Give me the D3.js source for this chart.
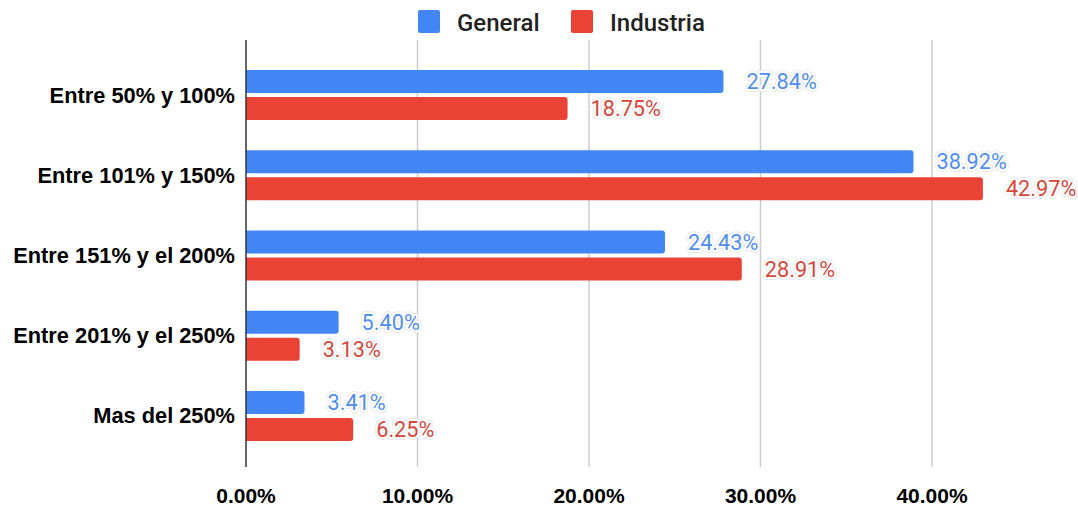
<!DOCTYPE html>
<html>
<head>
<meta charset="utf-8">
<script src="https://cdn.jsdelivr.net/npm/d3@7"></script>
<style>
  body { margin: 0; background: #fff; }
  svg { display: block; }
  .cat text, .xax text { font-family: "Liberation Sans", Arial, sans-serif; font-weight: bold; fill: #000; }
  .val { font-family: Roboto, "Liberation Sans", sans-serif; font-size: 21.7px; paint-order: stroke; stroke: #fff; stroke-width: 4px; stroke-linejoin: round; }
  .halo { font-family: Roboto, "Liberation Sans", sans-serif; font-size: 21.7px; fill: none; stroke: #e6e6e6; stroke-width: 5.5px; stroke-linejoin: round; }
</style>
</head>
<body>
<svg id="chart"></svg>
<script>
var categories = ["Entre 50% y 100%", "Entre 101% y 150%", "Entre 151% y el 200%", "Entre 201% y el 250%", "Mas del 250%"];
var general = [27.84, 38.92, 24.43, 5.40, 3.41];
var industria = [18.75, 42.97, 28.91, 3.13, 6.25];
var xTicks = [0, 10, 20, 30, 40];
var seriesNames = ["General", "Industria"];
var colors = ["#4285f4", "#ea4335"];
var labelColors = ["#4f8ef0", "#d8453a"];

var width = 1078, height = 506;
var svg = d3.select("#chart").attr("width", width).attr("height", height);

var x = d3.scaleLinear().domain([0, 40]).range([246, 932]);
var y = d3.scaleBand().domain(categories).range([55, 456]);
var plotTop = 40, plotBottom = 467;

// gridlines
svg.append("g").selectAll("line")
  .data(xTicks.slice(1))
  .enter().append("line")
  .attr("x1", function (d) { return x(d); })
  .attr("x2", function (d) { return x(d); })
  .attr("y1", plotTop).attr("y2", plotBottom)
  .attr("stroke", "#cccccc").attr("stroke-width", 1.5);

var data = [];
categories.forEach(function (c, i) {
  data.push({ cat: c, s: 0, v: general[i] });
  data.push({ cat: c, s: 1, v: industria[i] });
});

var barH = 23;
function barY(d) {
  var c = y(d.cat) + y.bandwidth() / 2;
  return d.s === 0 ? c - barH - 2 : c + 2;
}

// bars with rounded right end
svg.append("g").selectAll("path")
  .data(data)
  .enter().append("path")
  .attr("fill", function (d) { return colors[d.s]; })
  .attr("d", function (d) {
    var x0 = x(0), x1 = x(d.v), y0 = barY(d), r = 3;
    return "M" + x0 + "," + y0 + "H" + (x1 - r) + "Q" + x1 + "," + y0 + " " + x1 + "," + (y0 + r) +
      "V" + (y0 + barH - r) + "Q" + x1 + "," + (y0 + barH) + " " + (x1 - r) + "," + (y0 + barH) + "H" + x0 + "Z";
  });

// value labels (faint grey edge, white halo, coloured text)
["halo", "val"].forEach(function (cls) {
  svg.append("g").selectAll("text")
    .data(data)
    .enter().append("text")
    .attr("class", cls)
    .attr("x", function (d) { return x(d.v) + 23; })
    .attr("y", function (d) { return barY(d) + barH / 2 + 7.5; })
    .attr("fill", function (d) { return cls === "val" ? labelColors[d.s] : "none"; })
    .text(function (d) { return d.v.toFixed(2) + "%"; });
});

// baseline axis
svg.append("line")
  .attr("x1", x(0)).attr("x2", x(0))
  .attr("y1", plotTop).attr("y2", plotBottom)
  .attr("stroke", "#333").attr("stroke-width", 1.5);

// category labels
svg.append("g").attr("class", "cat").selectAll("text")
  .data(categories)
  .enter().append("text")
  .attr("x", 235)
  .attr("y", function (d) { return y(d) + y.bandwidth() / 2 + 7.5; })
  .attr("text-anchor", "end")
  .attr("font-size", "21.8px")
  .text(function (d) { return d; });

// x tick labels
svg.append("g").attr("class", "xax").selectAll("text")
  .data(xTicks)
  .enter().append("text")
  .attr("x", function (d) { return x(d); })
  .attr("y", 503)
  .attr("text-anchor", "middle")
  .attr("font-size", "21px")
  .text(function (d) { return d.toFixed(2) + "%"; });

// legend
var legendX = [418, 571];
var lg = svg.append("g").selectAll("g")
  .data(seriesNames)
  .enter().append("g")
  .attr("transform", function (d, i) { return "translate(" + legendX[i] + ",10)"; });
lg.append("rect")
  .attr("width", 22).attr("height", 23).attr("rx", 2)
  .attr("fill", function (d, i) { return colors[i]; });
lg.append("text")
  .attr("x", 39).attr("y", 20.5)
  .attr("font-family", "Roboto, sans-serif")
  .attr("font-weight", 500)
  .attr("font-size", "24px")
  .attr("fill", "#222")
  .text(function (d) { return d; });
</script>
</body>
</html>
